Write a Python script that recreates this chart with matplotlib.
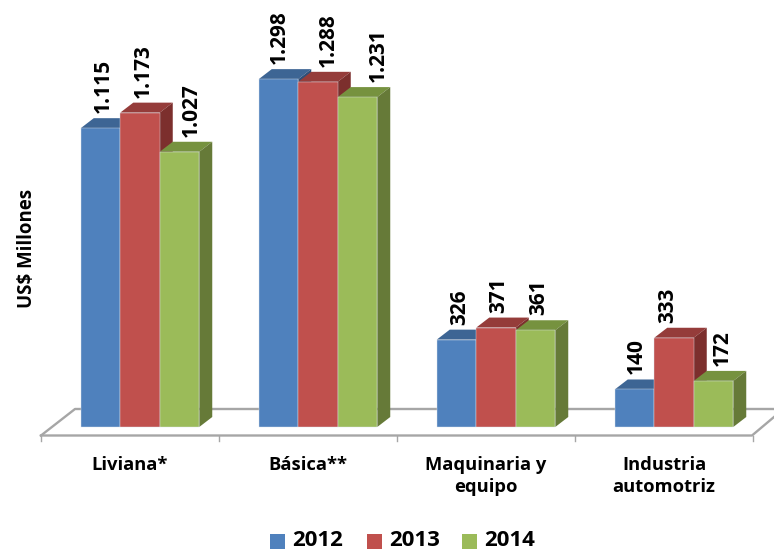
import matplotlib
matplotlib.use("Agg")
import matplotlib.pyplot as plt
from matplotlib.patches import Polygon, Rectangle

categories = ["Liviana*", "Básica**", "Maquinaria y\nequipo", "Industria\nautomotriz"]
years = ["2012", "2013", "2014"]
v2012 = [1115, 1298, 326, 140]
v2013 = [1173, 1288, 371, 333]
v2014 = [1027, 1231, 361, 172]
labels2012 = ["1.115", "1.298", "326", "140"]
labels2013 = ["1.173", "1.288", "371", "333"]
labels2014 = ["1.027", "1.231", "361", "172"]

front = ["#4F81BD", "#C0504D", "#9BBB59"]
top = ["#3D6594", "#953C3A", "#76923F"]
side = ["#2F4F78", "#7C2F2D", "#667A38"]

plt.rcParams["font.family"] = ["Open Sans", "DejaVu Sans"]
plt.rcParams["font.weight"] = "bold"

W, H = 774, 553
PX_X = 178.0     # pixels per category
PX_Y = 0.268     # pixels per US$ million
fig = plt.figure(figsize=(W / 100, H / 100), dpi=100)
ax = fig.add_axes([0, 0, 1, 1])
# category 0 sits at pixel 140, value 0 at pixel row 427
ax.set_xlim(-140 / PX_X, (W - 140) / PX_X)
ax.set_ylim((427 - H) / PX_Y, 427 / PX_Y)
ax.axis("off")

bar_w = 39.5 / PX_X
dx = 13 / PX_X
dy = 10 / PX_Y
y_px = lambda p: (427 - p) / PX_Y
x_px = lambda p: (p - 140) / PX_X

# floor of the 3d chart
floor = "#A6A6A6"
ax.plot([x_px(41), x_px(75), x_px(W)], [y_px(435.5), y_px(409), y_px(409)], color=floor, lw=1.7, zorder=1)
ax.plot([x_px(41), x_px(752), x_px(W)], [y_px(435.5), y_px(435.5), y_px(417)], color=floor, lw=1.7, zorder=1)
for i in range(5):
    tx = x_px(41) + i
    ax.plot([tx, tx], [y_px(435.5), y_px(441)], color=floor, lw=1.0, zorder=1)

series = [v2012, v2013, v2014]
series_labels = [labels2012, labels2013, labels2014]
# rough sideways shift of the value labels, in pixels
label_shift = [[3, 1, 3, 2], [3, 10, 3, -6], [12, 21, 3, 9]]

z = 2
for c in range(len(categories)):
    for s in range(3):
        val = series[s][c]
        left = c + (s - 1.5) * bar_w
        right = left + bar_w
        ax.add_patch(Polygon([(left, val), (right, val), (right + dx, val + dy), (left + dx, val + dy)],
                             closed=True, fc=top[s], ec="none", zorder=z))
        ax.add_patch(Polygon([(right, 0), (right + dx, dy), (right + dx, val + dy), (right, val)],
                             closed=True, fc=side[s], ec="none", zorder=z))
        ax.bar(left, val, width=bar_w, align="edge", color=front[s], edgecolor="#DCE3EC", linewidth=0.3, zorder=z + 1)
        ax.text(left + bar_w / 2 + label_shift[s][c] / PX_X, val + dy + 5 / PX_Y, series_labels[s][c],
                rotation=90, ha="center", va="bottom", fontsize=15, color="black", zorder=50)
        z += 2

# category labels sit a little left of the groups
label_nudge = [-10, -10, -10, -10]
for c, name in enumerate(categories):
    ax.text(c + label_nudge[c] / PX_X, y_px(456.5), name, ha="center", va="top", fontsize=13.2, linespacing=1.25, color="black")

ax.text(x_px(27), y_px(248), "US$ Millones", rotation=90, ha="center", va="center", fontsize=13.4, color="black")

# legend row
key_x = [270, 367, 462]
for i in range(3):
    ax.add_patch(Rectangle((x_px(key_x[i]), y_px(549)), 15 / PX_X, 15 / PX_Y, fc=front[i], ec="none"))
    ax.text(x_px(key_x[i] + 22), y_px(541), years[i], ha="left", va="center", fontsize=16, color="black")

fig.savefig("out.png", dpi=100)
